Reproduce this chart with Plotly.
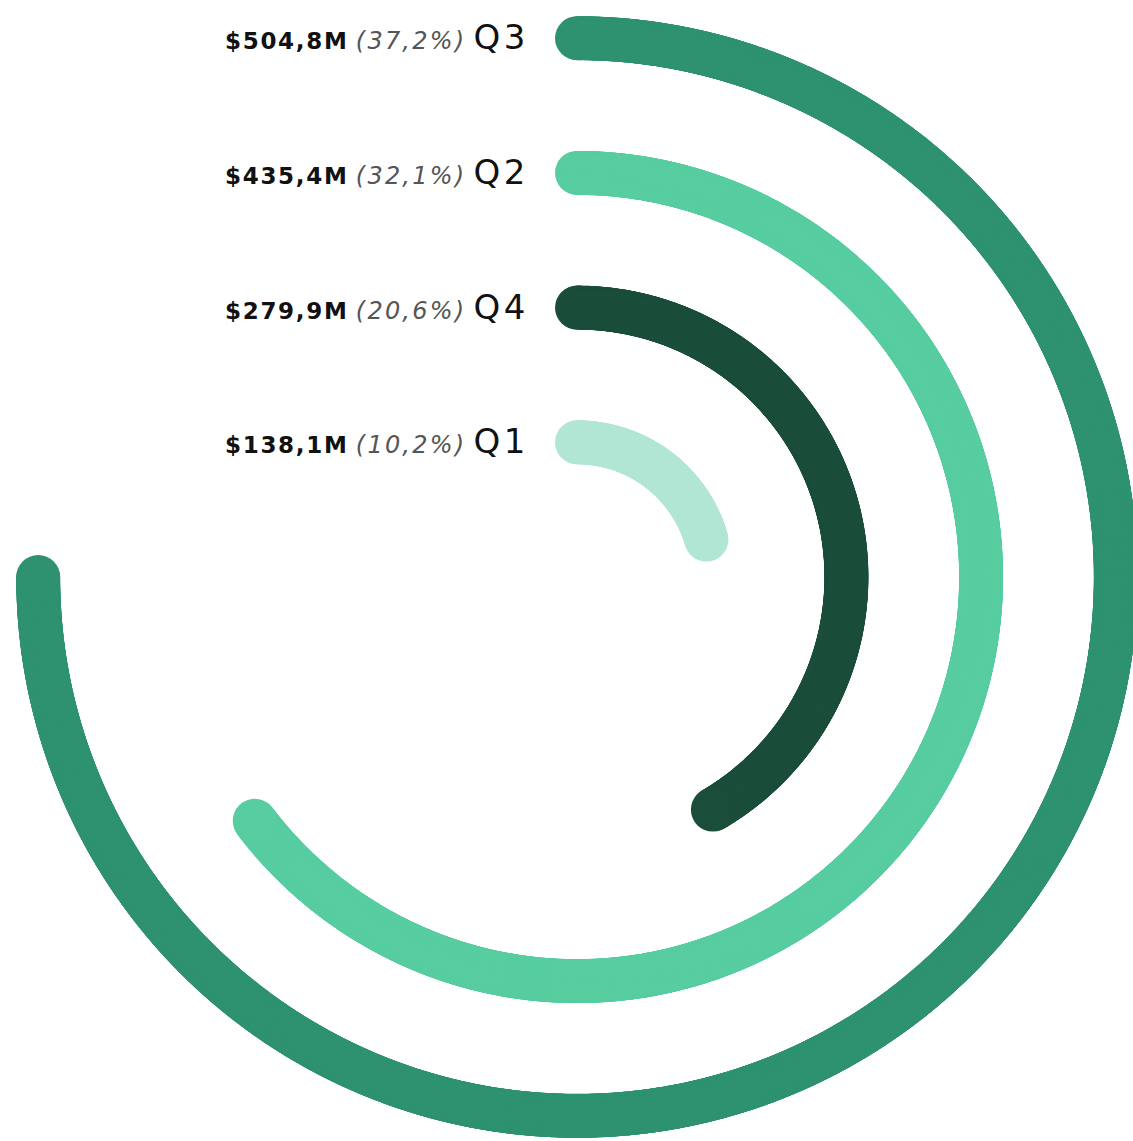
import numpy as np
import plotly.graph_objects as go

# data (innermost ring first)
quarters = ["Q1", "Q4", "Q2", "Q3"]
sales_m = [138.1, 279.9, 435.4, 504.8]
share_pct = ["10,2%", "20,6%", "32,1%", "37,2%"]
colors = ["#B2E6D4", "#1A4D3A", "#57CDA0", "#2E9270"]

W, H = 1133, 1141
CX, CY = 577, 577          # centre of rings in px
RING_PX = 134.7            # px between rings
R_PX = 556                 # polar radius in px
STROKE = 44
MAX_DEG = 270              # biggest value spans 3/4 of the circle

fig = go.Figure()

vmax = max(sales_m)
for i, (q, v, c) in enumerate(zip(quarters, sales_m, colors)):
    ring = i + 1
    end = v / vmax * MAX_DEG
    # chain of round dots along the arc -> thick arc with round ends
    n = int(np.radians(end) * ring * RING_PX / 1.5) + 2
    th = np.linspace(0, end, n)
    fig.add_trace(go.Scatterpolar(
        r=[ring] * n, theta=th, mode="markers",
        marker=dict(color=c, size=STROKE, line=dict(width=0)),
        cliponaxis=False, hovertemplate=f"{q}: ${v}M<extra></extra>",
        showlegend=False))

    y_px = CY - ring * RING_PX
    fig.add_annotation(
        x=531 / W, y=1 - (y_px - 1) / H, xref="paper", yref="paper",
        xanchor="right", yanchor="middle", showarrow=False,
        text=(f"<span style='letter-spacing:1.7px'><b>${str(v).replace('.', ',')}M</b></span> "
              f"<i><span style='color:#555555;font-size:24px;letter-spacing:2.2px'>({share_pct[i]})</span></i> "
              f"<span style='font-size:34px;letter-spacing:3.5px'>{q}</span>"),
        font=dict(family="DejaVu Sans", size=23, color="#111111"))

fig.update_layout(
    width=W, height=H,
    margin=dict(l=0, r=0, t=0, b=0),
    paper_bgcolor="white",
    polar=dict(
        domain=dict(x=[(CX - R_PX) / W, 1],
                    y=[(H - CY - R_PX) / H, (H - CY + R_PX) / H]),
        bgcolor="white",
        radialaxis=dict(range=[0, R_PX / RING_PX], visible=False),
        angularaxis=dict(rotation=90, direction="clockwise", visible=False),
    ),
)

# page body has an 8px default margin; drop it so the figure sits at 0,0
fig.write_html("out.html", config={"displayModeBar": False},
               post_script="document.body.style.margin='0';")
